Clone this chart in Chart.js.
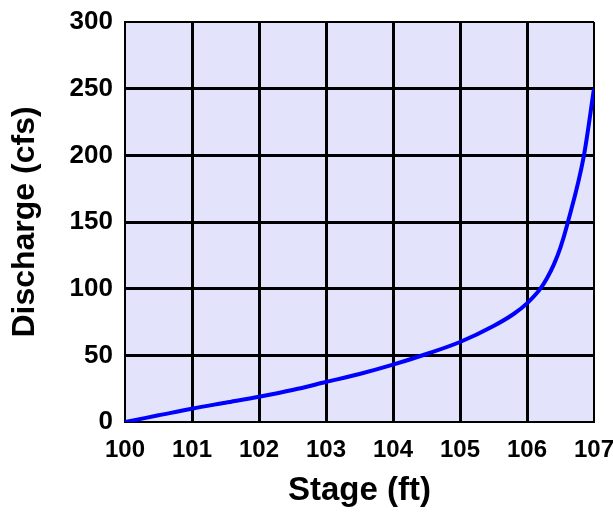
<!DOCTYPE html>
<html>
<head>
<meta charset="utf-8">
<script src="https://cdn.jsdelivr.net/npm/chart.js@4"></script>
<style>
  html, body { margin: 0; padding: 0; background: #fff; }
  #wrap { width: 613px; height: 513px; }
</style>
</head>
<body>
<div id="wrap"><canvas id="ratingChart" width="613" height="513"></canvas></div>
<script>
// Stage (ft) vs discharge (cfs)
const stage     = [100, 100.5, 101, 101.5, 102, 102.5, 103, 103.5, 104, 104.5, 105, 105.5, 105.8, 106, 106.2, 106.3, 106.4, 106.5, 106.6, 106.85, 107];
const discharge = [0,   5,     10,  14.5,  19,  24,    30,  36,    43,  51,    60,  72,    81,    89,  100,   108,   118,   131,   148,   200,    250];

const stageTicks = [100, 101, 102, 103, 104, 105, 106, 107];
const dischargeTicks = [0, 50, 100, 150, 200, 250, 300];

const points = stage.map((s, i) => ({ x: s, y: discharge[i] }));

// paint the plot area lavender
const plotBg = {
  id: 'plotBg',
  beforeDraw(chart) {
    const a = chart.chartArea;
    const c = chart.ctx;
    c.save();
    c.fillStyle = '#e3e3fc';
    c.fillRect(a.left, a.top, a.right - a.left, a.bottom - a.top);
    c.restore();
  }
};

const gridWidth = (ctx, last) => {
  const i = ctx.index;
  return (i === 0 || i === last) ? 2 : 3;
};

new Chart(document.getElementById('ratingChart').getContext('2d'), {
  type: 'scatter',
  data: {
    datasets: [{
      data: points,
      showLine: true,
      borderColor: '#0000ff',
      borderWidth: 4,
      pointRadius: 0,
      cubicInterpolationMode: 'monotone',
      fill: false
    }]
  },
  options: {
    responsive: false,
    animation: false,
    layout: { padding: { top: 22, right: 19, left: 0, bottom: 0 } },
    plugins: { legend: { display: false }, tooltip: { enabled: false } },
    scales: {
      x: {
        type: 'linear',
        min: 100, max: 107,
        afterBuildTicks: s => { s.ticks = stageTicks.map(v => ({ value: v })); },
        afterFit: s => { s.height = 91; s.paddingLeft = 0; s.paddingRight = 0; },
        ticks: { color: '#000', padding: 14, font: { family: 'Liberation Sans', size: 24, weight: 'bold' } },
        grid: { color: '#000', drawTicks: false, lineWidth: c => gridWidth(c, stageTicks.length - 1) },
        border: { display: true, color: '#000', width: 2 },
        title: {
          display: true, text: 'Stage (ft)', color: '#000',
          padding: { top: 0, bottom: 2 },
          font: { family: 'Liberation Sans', size: 33, weight: 'bold' }
        }
      },
      y: {
        min: 0, max: 300,
        afterBuildTicks: s => { s.ticks = dischargeTicks.map(v => ({ value: v })); },
        afterFit: s => { s.width = 125; s.paddingTop = 0; s.paddingBottom = 0; },
        ticks: { color: '#000', padding: 12, font: { family: 'Liberation Sans', size: 26, weight: 'bold' } },
        grid: { color: '#000', drawTicks: false, lineWidth: c => gridWidth(c, dischargeTicks.length - 1) },
        border: { display: true, color: '#000', width: 2 },
        title: {
          display: true, text: 'Discharge (cfs)', color: '#000',
          padding: { top: 6, bottom: 0 },
          font: { family: 'Liberation Sans', size: 32, weight: 'bold' }
        }
      }
    }
  },
  plugins: [plotBg]
});
</script>
</body>
</html>
